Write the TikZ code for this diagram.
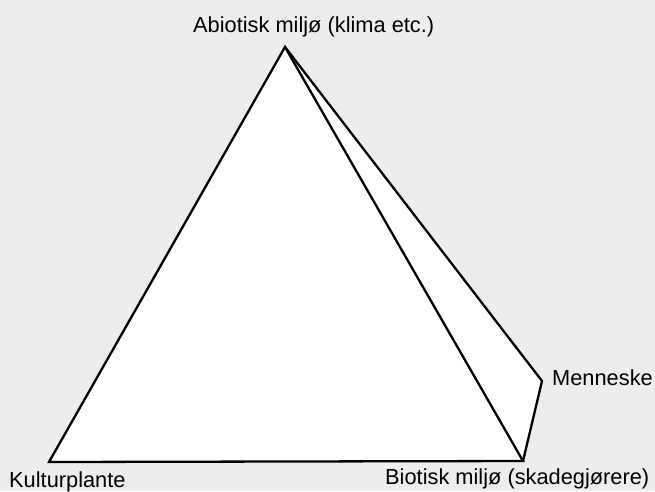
\documentclass[tikz,border=0pt]{standalone}
\usepackage{fontspec}
\setmainfont{Liberation Sans}
\definecolor{paper}{RGB}{237,237,237}
\tikzset{
  lbl/.style={inner sep=0pt, anchor=base west, font=\fontsize{21.8}{26}\selectfont},
  edge/.style={draw=black, line width=2.3pt, line join=miter}
}
\begin{document}
\begin{tikzpicture}[x=1pt,y=-1pt]
\useasboundingbox (0,0) rectangle (655,491);
\fill[paper] (0,0) rectangle (655,491);
\coordinate (apex) at (285,47);
\coordinate (kp) at (49,462);
\coordinate (bm) at (523,461);
\coordinate (me) at (542,381);
\fill[white] (apex) -- (kp) -- (bm) -- (me) -- cycle;
\draw[edge] (apex) -- (kp) -- (bm) -- cycle;
\draw[edge] (apex) -- (me) -- (bm);
\node[lbl] (tA) at (193,32) {Abiotisk miljø (klima etc.)};
\node[lbl] (tK) at (9,487) {Kulturplante};
\node[lbl] (tB) at (385,484) {Biotisk miljø (skadegjørere)};
\node[lbl] (tM) at (552,385) {Menneske};
\end{tikzpicture}
\end{document}
